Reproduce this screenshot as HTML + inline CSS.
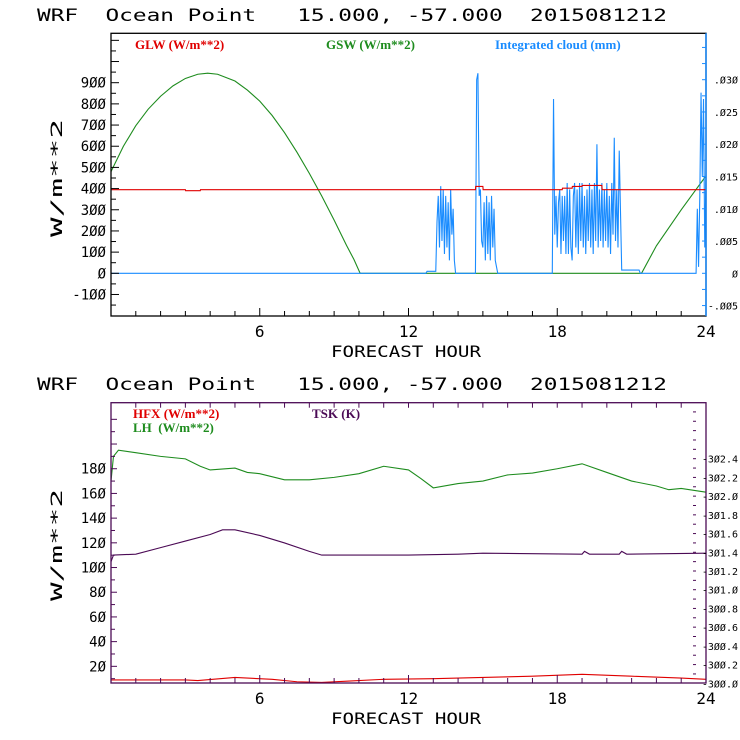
<!DOCTYPE html>
<html><head><meta charset="utf-8"><style>
body{margin:0;background:#fff}
svg{display:block}
text{font-family:"DejaVu Sans Mono","Liberation Mono",monospace;white-space:pre}
.lg{font-family:"Liberation Serif",serif;font-size:13px;font-weight:bold}
</style></head><body>
<svg id="c" width="740" height="740" viewBox="0 0 740 740"></svg>
<script>
// ---- data (top panel) ----
const gswHours=[0,0.5,1,1.5,2,2.5,3,3.5,3.9,4.3,5,5.5,6,6.5,7,7.5,8,8.5,9,9.5,9.8,10.05,21.4,22,22.5,23,23.5,24];
const gswVals=[480,600,697,775,836,885,920,940,945,940,908,865,813,745,664,572,472,365,251,132,65,0,0,130,215,300,380,460];
const glwHours=[0,3,3.01,3.6,3.61,14.7,14.71,15.0,15.01,18.2,18.21,18.6,18.61,19.0,19.01,19.8,19.81,24];
const glwVals=[395,395,390,390,395,395,410,410,395,395,402,402,410,410,415,415,395,395];
const cloudHours=[0,12.7,12.75,13.1,
 13.15,13.2,13.25,13.3,13.35,13.4,13.45,13.5,13.55,13.6,13.65,13.7,13.75,13.8,13.85,13.9,14.0,
 14.7,14.75,14.8,14.85,14.9,14.95,15.0,15.05,15.1,15.15,15.2,15.25,15.3,15.35,15.4,15.45,15.5,15.6,
 17.8,17.85,17.9,17.95,18.0,18.05,18.1,18.15,18.2,18.25,18.3,
 18.35,18.4,18.45,18.5,18.55,18.6,18.65,18.7,18.75,18.8,
 18.85,18.9,18.95,19.0,19.05,19.1,19.15,19.2,19.25,19.3,
 19.35,19.4,19.45,19.5,19.55,19.6,19.65,19.7,19.75,19.8,
 19.85,19.9,19.95,20.0,20.05,20.1,20.15,20.2,20.25,20.3,
 20.35,20.4,20.45,20.5,
 20.6,20.7,21.3,21.35,
 23.6,23.65,23.7,23.75,23.8,23.85,23.9,23.95,24];
const cloudVals=[0,0,.0003,.0003,
 .008,.012,.004,.0135,.005,.013,.003,.012,.004,.011,.002,.013,.006,.010,.002,0,0,
 0,.030,.031,.012,.013,.005,.004,.011,.002,.012,.003,.011,.002,.012,.004,.010,.002,0,
 0,.027,.006,.012,.004,.011,.013,.003,.012,.005,.012,
 .003,.014,.003,.013,.004,.002,.012,.014,.004,.013,
 .003,.014,.005,.014,.004,.012,.003,.013,.005,.014,
 .004,.013,.003,.014,.005,.020,.004,.013,.005,.014,
 .004,.013,.005,.014,.004,.012,.003,.014,.006,.021,
 .005,.013,.004,.019,
 .0005,.0005,.0005,0,
 0,.010,.001,.012,.028,.015,.027,.004,.015];
// ---- data (bottom panel) ----
const lhHours=[0,0.1,0.3,1,2,3,3.6,4,5,5.5,6,7,8,9,10,11,12,12.5,13,14,15,16,17,18,19,20,21,22,22.5,23,24];
const lhVals=[170,190,195,193,190,188,182,179,180.5,177,176,171,171,173,176,182,179,172,164.5,168,170,175,176.5,180,184,177,170,166,163,164,161];
const hfxHours=[0,3,3.5,5,6.5,7.5,8.5,9.5,11,13,15,17,19,21,23,24];
const hfxVals=[9,9,8.5,11,9.5,7.5,7,8,9.5,10,11,12,13.5,12,10.5,9.5];
const tskHours=[0,0.1,1,2,3,4,4.5,5,6,7,8,8.5,12,14,15,19,19.1,19.3,20.5,20.6,20.8,24];
const tskVals=[301.30,301.37,301.38,301.45,301.52,301.59,301.64,301.64,301.58,301.50,301.41,301.37,301.37,301.38,301.39,301.38,301.41,301.38,301.38,301.41,301.38,301.39];
const xTicks=[6,12,18,24];
const topLeftTicks=[-100,0,100,200,300,400,500,600,700,800,900];
const topRightTicks=[-0.005,0,0.005,0.010,0.015,0.020,0.025,0.030];
const topRightLabels=["-.005","0",".005",".010",".015",".020",".025",".030"];
const botLeftTicks=[20,40,60,80,100,120,140,160,180];
const botRightTicks=[300.0,300.2,300.4,300.6,300.8,301.0,301.2,301.4,301.6,301.8,302.0,302.2,302.4];

const NS="http://www.w3.org/2000/svg";
const svg=document.getElementById('c');
function mk(tag,at,parent){const e=document.createElementNS(NS,tag);for(const k in at)e.setAttribute(k,at[k]);(parent||svg).appendChild(e);return e;}
const X0=111,X1=706;
const xs=h=>X0+(X1-X0)*h/24;
const tyL=v=>273.3-(v)*0.21178;
const tyR=v=>273.3-v*(273.3-79.7)/0.030;
const byL=v=>683-(v-6.5)*1.235;
const byR=v=>683.3-(v-300)*(683.3-458.7)/2.4;

function txt(x,y,s,opts,name){
  const t=mk('text',Object.assign({x:x,y:y},opts));t.textContent=s;
  return t;
}
function title(y,name){
  txt(37,y,'WRF  Ocean Point   15.000, -57.000  2015081212',{'font-size':17,fill:'#000',textLength:630,lengthAdjust:'spacingAndGlyphs'},name);
}
function line(hs,vs,fy,color,name){
  let d='';hs.forEach((h,i)=>{d+=(i?'L':'M')+xs(h).toFixed(2)+','+fy(vs[i]).toFixed(2);});
  const p=mk('path',{d:d,fill:'none',stroke:color,'stroke-width':1.1});
  
}
function xaxis(yb,col){
  for(let h=1;h<24;h++){const l=h%6==0?8:5;mk('line',{x1:xs(h),x2:xs(h),y1:yb,y2:yb-l,stroke:col});}
  xTicks.forEach(h=>txt(xs(h),yb+21,String(h),{'font-size':16,'text-anchor':'middle',fill:'#000'},'x-tick-label'));
  txt(406,yb+41,'FORECAST HOUR',{'font-size':16,'text-anchor':'middle',fill:'#000',textLength:150,lengthAdjust:'spacingAndGlyphs'},'x-axis-title');
}
// ===== TOP PANEL =====
title(21,'top-title');
const T0=33.3,T1=316;
line(gswHours,gswVals,tyL,'#1e8c1e','gsw-line');
line(cloudHours,cloudVals,tyR,'#1a8cff','cloud-line');
line(glwHours,glwVals,tyL,'#e00000','glw-line');
let fr=mk('rect',{x:X0,y:T0,width:X1-X0,height:T1-T0,fill:'none',stroke:'#000','stroke-width':1.3});

mk('line',{x1:X1,x2:X1,y1:T0,y2:T1,stroke:'#1a8cff','stroke-width':1.5});
for(let v=-150;v<=1100;v+=50){if(tyL(v)>T0&&tyL(v)<T1)mk('line',{x1:X0,x2:X0+(v%100==0?8:5),y1:tyL(v),y2:tyL(v),stroke:'#000'});}
topLeftTicks.forEach(v=>txt(106,tyL(v)+5,String(v).replace(/0/g,'Ø'),{'font-size':14,'text-anchor':'end',fill:'#000'},'top-y-tick-label'));
for(let v=-0.0075;v<=0.04;v+=0.0025){const y=tyR(v);if(y>T0&&y<T1)mk('line',{x1:X1,x2:X1-4,y1:y,y2:y,stroke:'#1a8cff'});}
topRightTicks.forEach((v,i)=>txt(738,tyR(v)+4,topRightLabels[i].replace(/0/g,'Ø'),{'font-size':10,'text-anchor':'end',fill:'#000'},'top-right-tick-label'));
xaxis(T1,'#000');
txt(62,178,'W/m**2',{'font-size':16,'text-anchor':'middle',fill:'#000',transform:'rotate(-90 62 178)',textLength:118,lengthAdjust:'spacingAndGlyphs'},'top-y-axis-title');
txt(135,49,'GLW (W/m**2)',{'class':'lg',fill:'#e00000'},'legend-glw');
txt(326,49,'GSW (W/m**2)',{'class':'lg',fill:'#1e8c1e'},'legend-gsw');
txt(495,49,'Integrated cloud (mm)',{'class':'lg',fill:'#1a8cff'},'legend-cloud');
// ===== BOTTOM PANEL =====
title(390,'bottom-title');
const B0=402.7,B1=683;
line(lhHours,lhVals,byL,'#1e8c1e','lh-line');
line(tskHours,tskVals,byR,'#4b0a55','tsk-line');
line(hfxHours,hfxVals,byL,'#e00000','hfx-line');
fr=mk('rect',{x:X0,y:B0,width:X1-X0,height:B1-B0,fill:'none',stroke:'#4b0a55','stroke-width':1.3});

for(let v=10;v<=220;v+=10){const y=byL(v);if(y>B0&&y<B1)mk('line',{x1:X0,x2:X0+(v%20==0?6:4),y1:y,y2:y,stroke:'#4b0a55'});}
botLeftTicks.forEach(v=>txt(106,byL(v)+5,String(v).replace(/0/g,'Ø'),{'font-size':14,'text-anchor':'end',fill:'#000'},'bottom-y-tick-label'));
for(let v=300;v<=303.1;v+=0.1){const y=byR(v);if(y>B0+5&&y<B1)mk('line',{x1:693,x2:696,y1:y,y2:y,stroke:'#4b0a55'});}
botRightTicks.forEach(v=>txt(738,byR(v)+4,'-'+v.toFixed(1).replace(/0/g,'Ø'),{'font-size':10,'text-anchor':'end',fill:'#000'},'bottom-right-tick-label'));
for(let h=1;h<24;h++){mk('line',{x1:xs(h),x2:xs(h),y1:B0,y2:B0+5,stroke:'#4b0a55'});}
xaxis(B1,'#4b0a55');
txt(62,545,'W/m**2',{'font-size':16,'text-anchor':'middle',fill:'#000',transform:'rotate(-90 62 545)',textLength:112,lengthAdjust:'spacingAndGlyphs'},'bottom-y-axis-title');
txt(133,418,'HFX (W/m**2)',{'class':'lg',fill:'#e00000'},'legend-hfx');
txt(133,432,'LH  (W/m**2)',{'class':'lg',fill:'#1e8c1e'},'legend-lh');
txt(312,418,'TSK (K)',{'class':'lg',fill:'#4b0a55'},'legend-tsk');
</script>
</body></html>
